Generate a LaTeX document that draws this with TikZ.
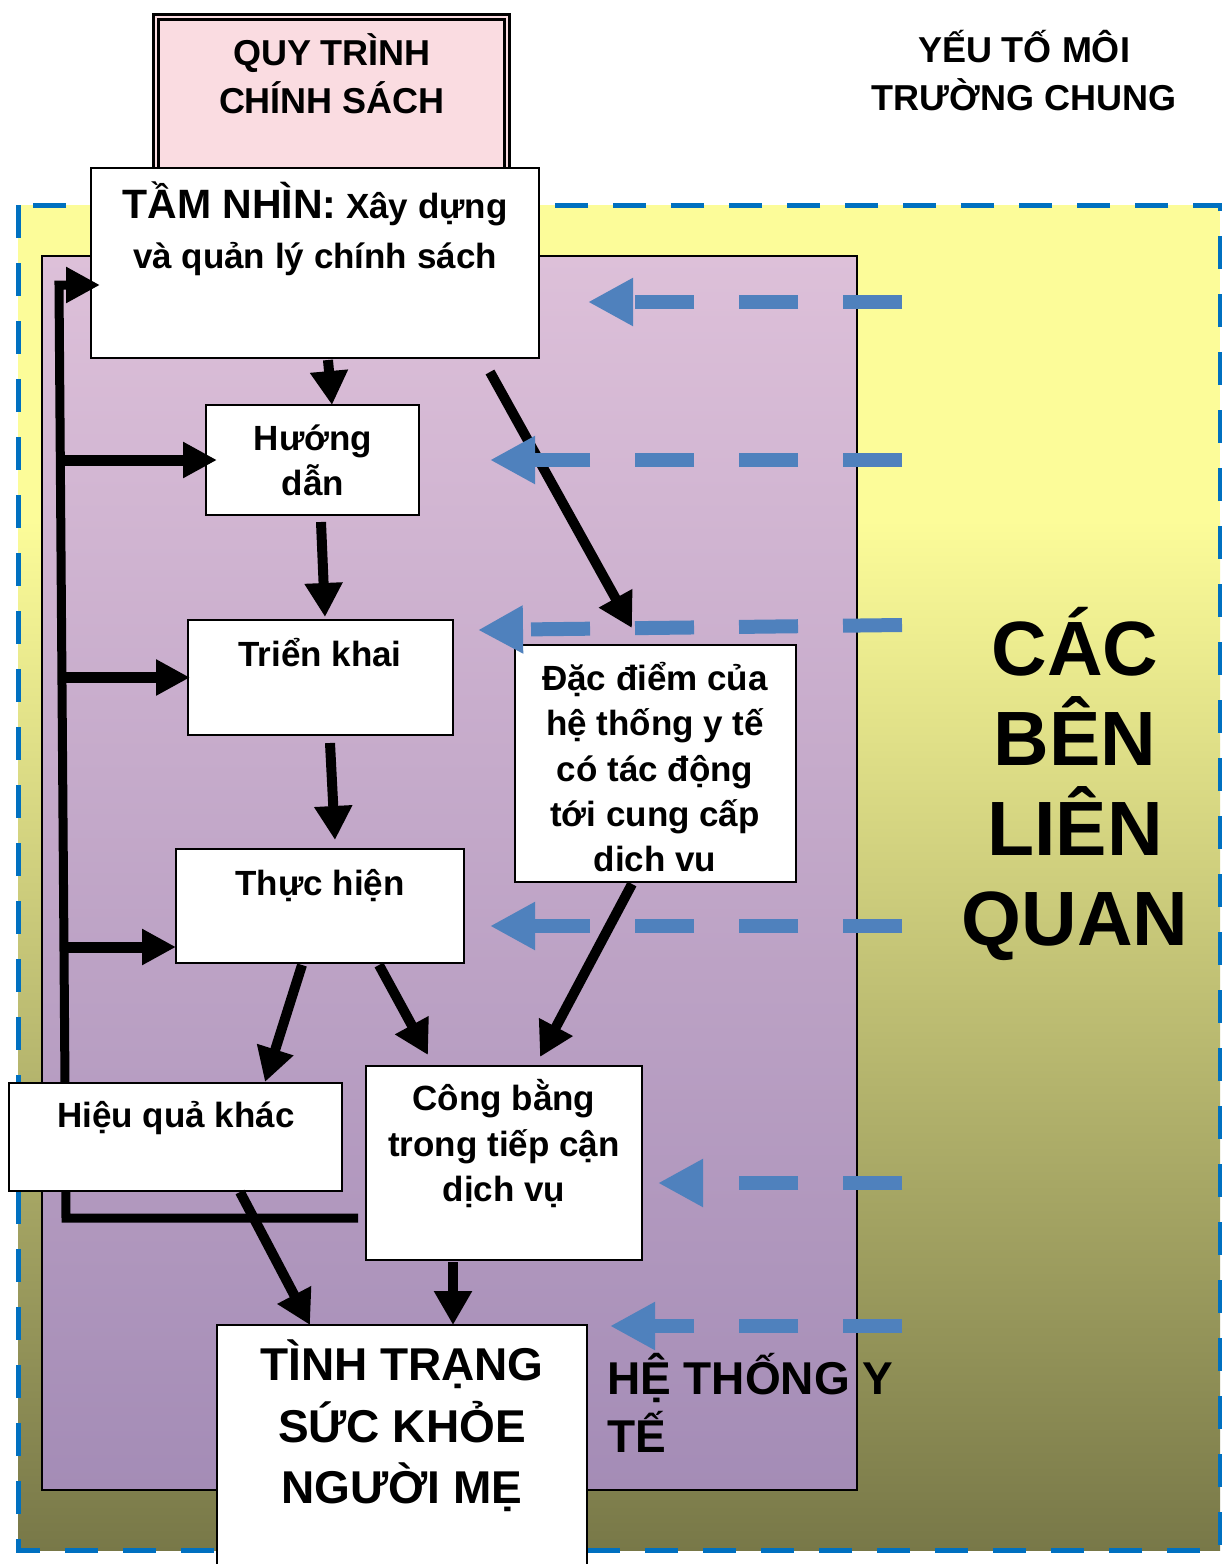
\documentclass[tikz,border=0pt]{standalone}
\usepackage{fontspec}
\setmainfont{Liberation Sans}
\usetikzlibrary{arrows.meta,calc}
\definecolor{yl}{HTML}{FCFC99}
\definecolor{ol}{HTML}{787848}
\definecolor{bd}{HTML}{0070C0}
\definecolor{ba}{HTML}{4F81BD}
\definecolor{pt}{HTML}{DDC0D9}
\definecolor{pb}{HTML}{A48CB6}
\definecolor{pk}{HTML}{FADCE1}
\newcommand\st{\rule[-0.24em]{0pt}{1.2em}}
\newcommand\fz[2]{\fontsize{#1pt}{#2pt}\selectfont\bfseries}
\begin{document}
\begin{tikzpicture}[x=1pt,y=-1pt,
 box/.style={draw=black,fill=white,line width=2.5pt,anchor=north west,inner sep=0pt,outer sep=0pt},
 txt/.style={align=center,inner sep=0pt},
 arr/.style={line width=10pt,-{Triangle[length=34pt,width=36pt]}},
 loopline/.style={line width=9pt,line join=miter},
 barr/.style={draw=ba,line width=14pt,dash pattern=on 59pt off 45pt,-{Triangle[length=45pt,width=45pt]}},
]
\clip (0,0) rectangle (1222,1564);
\fill[white] (0,0) rectangle (1222,1564);
% environment background
\fill[yl] (18,205) rectangle (1220,525);
\shade[top color=yl,bottom color=ol] (18,520) rectangle (1220,1550);
\draw[bd,line width=5pt,dash pattern=on 33pt off 25pt] (18,205) rectangle (1220,1550);
% health system area
\shadedraw[top color=pt,bottom color=pb,draw=black,line width=2.5pt] (42,256) rectangle (857,1490);
% policy process box
\node[draw=black,line width=3pt,double=pk,double distance=2.5pt,fill=pk,minimum width=351pt,minimum height=200pt,anchor=north west,inner sep=0pt,outer sep=0pt] (quy) at (156,17) {};
\node[txt,font=\fz{36}{48}] (quyt) at (332,77) {\st QUY TRÌNH\\\st CHÍNH SÁCH};
% boxes
\node[box,minimum width=448pt,minimum height=190pt] (tam) at (91,168) {};
\node[box,minimum width=213pt,minimum height=110pt] (huong) at (206,405) {};
\node[box,minimum width=265pt,minimum height=115pt] (trien) at (188,620) {};
\node[box,minimum width=288pt,minimum height=114pt] (thuc) at (176,849) {};
\node[box,minimum width=281pt,minimum height=237pt] (dac) at (515,645) {};
\node[box,minimum width=276pt,minimum height=194pt] (cong) at (366,1066) {};
\node[box,minimum width=370pt,minimum height=280pt] (tinh) at (217,1325) {};
% texts
\node[txt,font=\fz{35}{50}] (tamt) at (315,229) {\st{\fontsize{41pt}{50pt}\selectfont TẦM NHÌN:} Xây dựng\\\st và quản lý chính sách};
\node[txt,font=\fz{36}{48}] (yeut) at (1024,74) {\st YẾU TỐ MÔI\\\st TRƯỜNG CHUNG};
\node[txt,font=\fz{35}{45}] (huongt) at (313,460) {\st Hướng\\\st dẫn};
\node[txt,font=\fz{35}{45}] (trient) at (320,654) {\st Triển khai};
\node[txt,font=\fz{35}{45}] (thuct) at (320,883) {\st Thực hiện};
\node[txt,font=\fz{35}{45.4}] (dact) at (655,768.5) {\st Đặc điểm của\\\st hệ thống y tế\\\st có tác động\\\st tới cung cấp\\\st dich vu};
\node[txt,font=\fz{35}{45.5}] (congt) at (504,1143.5) {\st Công bằng\\\st trong tiếp cận\\\st dịch vụ};
\node[txt,font=\fz{46}{61.5}] (tinht) at (402,1425.5) {\st TÌNH TRẠNG\\\st SỨC KHỎE\\\st NGƯỜI MẸ};
\node[txt,font=\fz{77}{90}] (cact) at (1075,783) {\rule[-0.2em]{0pt}{1.12em}CÁC\\\rule[-0.2em]{0pt}{1.12em}BÊN\\\rule[-0.2em]{0pt}{1.12em}LIÊN\\\rule[-0.2em]{0pt}{1.12em}QUAN};
\node[txt,align=left,anchor=west,font=\fz{46}{58}] (het) at (607,1407) {\st HỆ THỐNG Y\\\st TẾ};
% feedback loop (behind the "other effects" box)
\coordinate (lb) at (66,1218);
\coordinate (lt) at (59,285);
\coordinate (b1) at (60,460);
\coordinate (b2) at (61.5,677.5);
\coordinate (b3) at (63,947);
\draw[loopline,-{Triangle[length=34pt,width=34pt]}] ([xshift=-8pt,yshift=42pt]cong.south west) -- (lb) -- (lt) -- ([xshift=9pt,yshift=-22pt]tam.west);
\draw[arr,line width=11pt,-{Triangle[length=34pt,width=34pt]}] (b1) -- ([xshift=11pt]huong.west);
\draw[arr,line width=11pt,-{Triangle[length=34pt,width=34pt]}] (b2) -- ([xshift=2pt]trien.west);
\draw[arr,line width=11pt,-{Triangle[length=34pt,width=34pt]}] (b3) -- ([yshift=-41pt]thuc.west);
% other effects box
\node[box,minimum width=333pt,minimum height=108pt] (hieu) at (9,1083) {};
\node[txt,font=\fz{35}{45}] (hieut) at (176,1115) {\st Hiệu quả khác};
% black arrows
\draw[arr] ([xshift=13pt,yshift=-2pt]tam.south) -- ([xshift=19.5pt]huong.north);
\draw[arr] ([xshift=175pt,yshift=-14pt]tam.south) -- ([xshift=-23.5pt,yshift=17pt]dac.north);
\draw[arr] ([xshift=8.5pt,yshift=-7pt]huong.south) -- ([xshift=4.5pt,yshift=3pt]trien.north);
\draw[arr] ([xshift=9.5pt,yshift=-8pt]trien.south) -- ([xshift=15pt,yshift=9pt]thuc.north);
\draw[arr] ([xshift=-18pt,yshift=-2pt]thuc.south) -- ([xshift=89.5pt,yshift=1pt]hieu.north);
\draw[arr] ([xshift=59pt,yshift=-2pt]thuc.south) -- ([xshift=-76pt,yshift=11pt]cong.north);
\draw[arr] ([xshift=-23.5pt,yshift=-2pt]dac.south) -- ([xshift=36pt,yshift=9pt]cong.north);
\draw[arr] ([xshift=-51pt,yshift=-2pt]cong.south) -- ([xshift=51pt]tinh.north);
\draw[arr] ([xshift=64.5pt,yshift=-1pt]hieu.south) -- ([xshift=-92pt]tinh.north);
% blue dashed arrows
\coordinate (s1) at (902,302); \coordinate (t1) at (588,302);
\coordinate (s2) at (902,460); \coordinate (t2) at (490,460);
\coordinate (s3) at (902,625); \coordinate (t3) at (478,630);
\coordinate (s4) at (902,926); \coordinate (t4) at (490,926);
\coordinate (s5) at (902,1183); \coordinate (t5) at (658,1183);
\coordinate (s6) at (902,1326); \coordinate (t6) at (610,1326);
\foreach \i in {1,...,6} {\draw[barr] (s\i) -- (t\i);}
\end{tikzpicture}
\end{document}
